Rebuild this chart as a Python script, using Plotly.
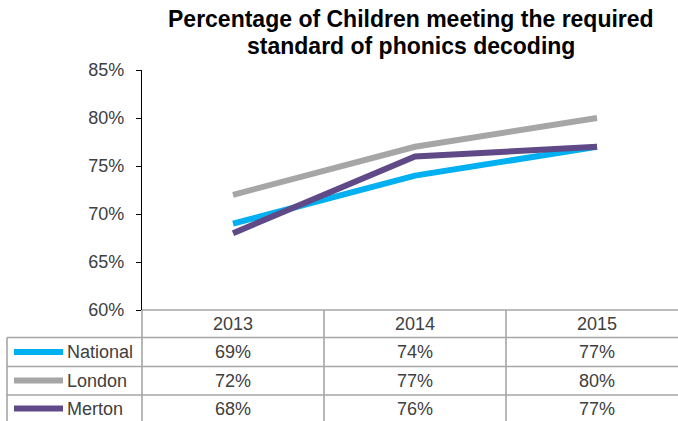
import plotly.graph_objects as go

# Phonics screening results by area and year
years = ["2013", "2014", "2015"]
series_names = ["National", "London", "Merton"]
national = [0.69, 0.74, 0.77]
london = [0.72, 0.77, 0.80]
merton = [0.68, 0.76, 0.77]
y_ticks = [0.60, 0.65, 0.70, 0.75, 0.80, 0.85]
title_lines = ["Percentage of Children meeting the required",
               "standard of phonics decoding"]

colors = {"National": "#00B0F0", "London": "#A6A6A6", "Merton": "#5F4A87"}
values = {"National": national, "London": london, "Merton": merton}

W, H = 678, 421
L, T, B_PX = 142, 70, 310          # plot area pixel bounds (left, top, bottom)
X_RANGE = [-0.5, 2.445]
FONT = "Liberation Sans, Arial, sans-serif"
TXT = "#404040"
GRID = "#A6A6A6"
FS = 18

fig = go.Figure()
xs = list(range(len(years)))
for name in series_names:
    fig.add_trace(go.Scatter(
        x=xs, y=values[name], mode="lines", name=name,
        line=dict(color=colors[name], width=6),
        showlegend=False, hoverinfo="skip",
    ))

plot_w = W - L
plot_h = B_PX - T


def px_x(px):
    return (px - L) / plot_w


def px_y(py):
    return (B_PX - py) / plot_h


def data_x(v):
    return (v - X_RANGE[0]) / (X_RANGE[1] - X_RANGE[0])


shapes = []
annotations = []

# data table grid
row_edges = [310, 337.5, 366.5, 395, 440]
right = px_x(W + 10)
left_tbl = px_x(7)
shapes.append(dict(type="line", xref="paper", yref="paper", x0=0, x1=right,
                   y0=px_y(row_edges[0]), y1=px_y(row_edges[0]),
                   line=dict(color=GRID, width=1.6)))
for r in row_edges[1:4]:
    shapes.append(dict(type="line", xref="paper", yref="paper", x0=left_tbl, x1=right,
                       y0=px_y(r), y1=px_y(r), line=dict(color=GRID, width=1.6)))
# vertical separators
for xv in [0, data_x(0.5), data_x(1.5)]:
    shapes.append(dict(type="line", xref="paper", yref="paper", x0=xv, x1=xv,
                       y0=px_y(310), y1=px_y(440), line=dict(color=GRID, width=1.6)))
shapes.append(dict(type="line", xref="paper", yref="paper", x0=left_tbl, x1=left_tbl,
                   y0=px_y(337.5), y1=px_y(440), line=dict(color=GRID, width=1.6)))

# header row with years
for i, yr in enumerate(years):
    annotations.append(dict(x=data_x(i), y=px_y(323.5), xref="paper", yref="paper",
                            text=yr, showarrow=False, xanchor="center", yanchor="middle",
                            font=dict(family=FONT, size=FS, color=TXT)))

# series rows: legend key, name, values
row_centers = [352, 380.5, 408.5]
for name, rc in zip(series_names, row_centers):
    shapes.append(dict(type="line", xref="paper", yref="paper",
                       x0=px_x(14), x1=px_x(63), y0=px_y(rc), y1=px_y(rc),
                       line=dict(color=colors[name], width=6)))
    annotations.append(dict(x=px_x(65), y=px_y(rc), xref="paper", yref="paper",
                            text=name, showarrow=False, xanchor="left", yanchor="middle",
                            font=dict(family=FONT, size=FS, color=TXT)))
    for i, v in enumerate(values[name]):
        annotations.append(dict(x=data_x(i), y=px_y(rc), xref="paper", yref="paper",
                                text=f"{round(v * 100)}%", showarrow=False,
                                xanchor="center", yanchor="middle",
                                font=dict(family=FONT, size=FS, color=TXT)))

# two-line title
for line, cy in zip(title_lines, [19, 46]):
    annotations.append(dict(x=px_x(411), y=px_y(cy), xref="paper", yref="paper",
                            text=f"<b>{line}</b>", showarrow=False,
                            xanchor="center", yanchor="middle",
                            font=dict(family=FONT, size=23, color="#000000")))

fig.update_layout(
    width=W, height=H,
    margin=dict(l=L, r=0, t=T, b=H - B_PX, pad=0),
    paper_bgcolor="white", plot_bgcolor="white",
    showlegend=False,
    shapes=shapes, annotations=annotations,
    xaxis=dict(range=X_RANGE, showticklabels=False, showgrid=False, zeroline=False,
               showline=False, ticks="", fixedrange=True),
    yaxis=dict(range=[0.60, 0.85], tickvals=y_ticks, tickformat=".0%",
               showgrid=False, zeroline=False, showline=True, linecolor="#000000",
               linewidth=1.2, ticks="outside", ticklen=5, tickcolor="#000000",
               tickfont=dict(family=FONT, size=FS, color=TXT), ticklabelstandoff=8),
)

fig.write_html("out.html")
